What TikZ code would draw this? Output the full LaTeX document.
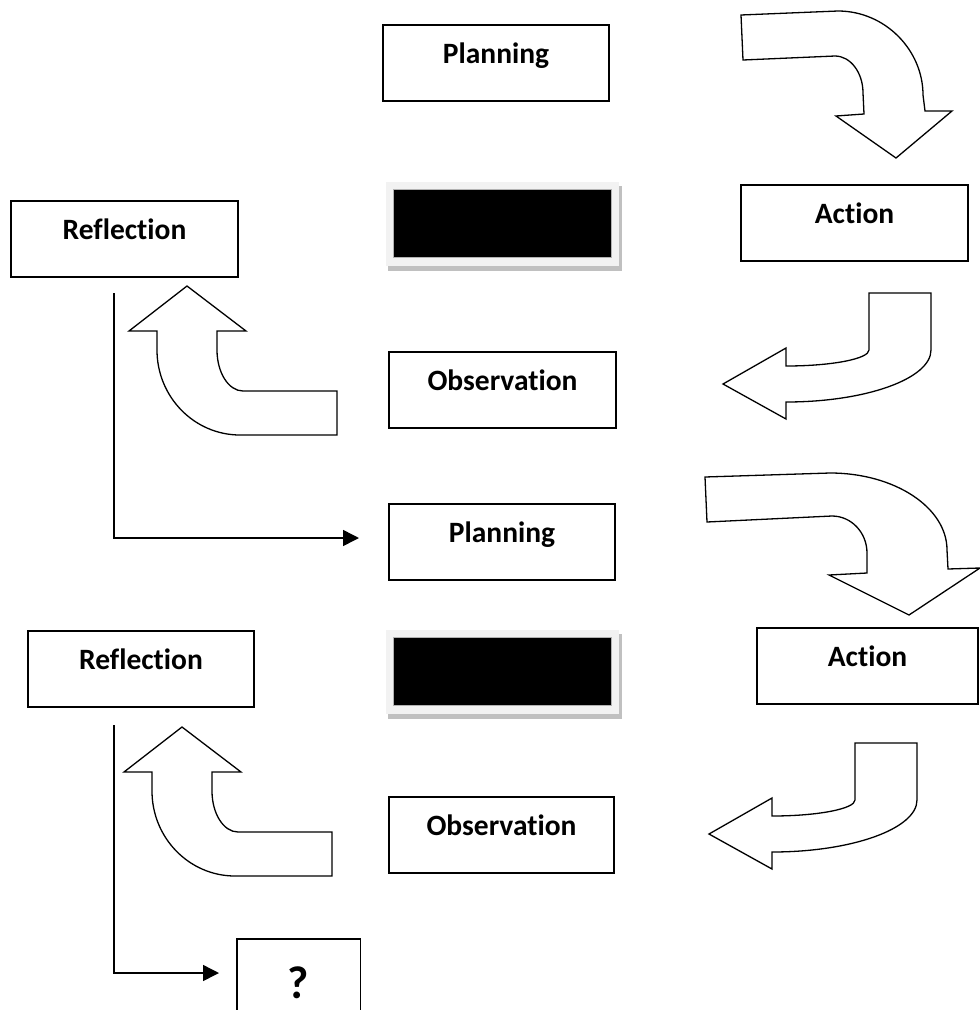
\documentclass[tikz,border=0pt]{standalone}
\usepackage{fontspec}
\setmainfont{Carlito}[Ligatures=NoCommon]
\usetikzlibrary{arrows.meta,calc}
\definecolor{shadowgray}{RGB}{192,192,192}
\definecolor{framegray}{RGB}{242,242,242}
\begin{document}
\begin{tikzpicture}[x=1pt,y=-1pt,
  stagebox/.style={draw, line width=1.4pt, rectangle, inner sep=0pt,
    minimum width=226pt, minimum height=76pt, text height=14pt, text depth=14pt,
    font=\fontsize{29.5}{31}\selectfont\bfseries},
  blackbox/.style={fill=black, draw=gray!60, line width=0.6pt, rectangle, inner sep=0pt,
    minimum width=218pt, minimum height=68pt},
  bentarrow/.style={draw, fill=white, line width=1.3pt, line join=miter},
  conn/.style={draw, line width=1.5pt, -{Triangle[length=16pt,width=16pt]}}
]
\clip (0,0) rectangle (980,1010);
\fill[white] (0,0) rectangle (980,1010);

% ---- boxes ----
\node[stagebox] (plan1) at (496,63) {Planning};
\node[stagebox, minimum width=227pt] (refl1) at (124.5,239) {Reflection};
\node[stagebox, minimum width=227pt] (act1) at (854.5,223) {Action};
\node[stagebox, minimum width=227pt] (obs1) at (502.5,390) {Observation};
\node[stagebox] (plan2) at (502,542) {Planning};
\node[stagebox] (refl2) at (141,669) {Reflection};
\node[stagebox, minimum width=221pt] (act2) at (867.5,666) {Action};
\node[stagebox, minimum width=225pt] (obs2) at (501.5,835) {Observation};
% question box (runs off the bottom edge)
\node[rectangle, inner sep=0pt, minimum width=123pt, minimum height=73pt] (qbox) at (298.5,975.5) {};
\draw[line width=1.4pt] (qbox.south west) |- (qbox.north east) -- (qbox.south east);
\node[anchor=base, inner sep=0pt, font=\fontsize{46}{48}\selectfont\bfseries] (qmark) at (298.5,998) {?};

% ---- black boxes ----
\coordinate (b1) at (502,223);
\coordinate (b2) at (502,671);
\foreach \b in {b1,b2}{
  \fill[shadowgray] ($(\b)+(-114,-37)$) rectangle ($(\b)+(120,48)$);
  \fill[framegray] ($(\b)+(-116,-41)$) rectangle ($(\b)+(117,43)$);
}
\node[blackbox] (blk1) at (b1) {};
\node[blackbox] (blk2) at (b2) {};

% ---- bent arrows ----
% top right, pointing down
\path[bentarrow] (741,15) -- (838,11) .. controls (885,11) and (923,50) .. (923,95)
  -- (925,111) -- (952,111) -- (896,158) -- (836,116) -- (864,114) -- (863,93)
  .. controls (863,72.6) and (850.5,56) .. (835,56) -- (743,60) -- cycle;
% right, pointing left
\path[bentarrow] (869,293) -- (931,293) -- (931,350)
  .. controls (931,378.7) and (866,402) .. (786,402) -- (786,419) -- (723,384)
  -- (786,348) -- (786,366) .. controls (831.8,366) and (869,358.8) .. (869,350) -- cycle;
% left, pointing up
\path[bentarrow] (187,286) -- (246,331) -- (217,331) -- (217,350)
  .. controls (217,372.6) and (228.6,391) .. (243,391) -- (337,391) -- (337,435)
  -- (240,435) .. controls (194.2,435) and (157,396.9) .. (157,350) -- (157,331)
  -- (129,331) -- cycle;
% second top right, pointing down
\path[bentarrow] (705,477) -- (830,473) .. controls (894.6,473) and (947,507.5) .. (947,550)
  -- (948,569) -- (980,568) -- (909,615) -- (829,575) -- (867,573) -- (867,553)
  .. controls (867,532.6) and (851.3,516) .. (832,516) -- (707,522) -- cycle;
% second right, pointing left
\begin{scope}[shift={(-14,450)}]
\path[bentarrow] (869,293) -- (931,293) -- (931,350)
  .. controls (931,378.7) and (866,402) .. (786,402) -- (786,419) -- (723,384)
  -- (786,348) -- (786,366) .. controls (831.8,366) and (869,358.8) .. (869,350) -- cycle;
\end{scope}
% second left, pointing up
\begin{scope}[shift={(-5,441)}]
\path[bentarrow] (187,286) -- (246,331) -- (217,331) -- (217,350)
  .. controls (217,372.6) and (228.6,391) .. (243,391) -- (337,391) -- (337,435)
  -- (240,435) .. controls (194.2,435) and (157,396.9) .. (157,350) -- (157,331)
  -- (129,331) -- cycle;
\end{scope}

% ---- connectors ----
\coordinate (s1) at (114,293);
\coordinate (s2) at (114,725);
\coordinate (e1) at (359,538);
\coordinate (e2) at (219,973);
\draw[conn] (s1) |- (e1);
\draw[conn] (s2) |- (e2);
\end{tikzpicture}
\end{document}
